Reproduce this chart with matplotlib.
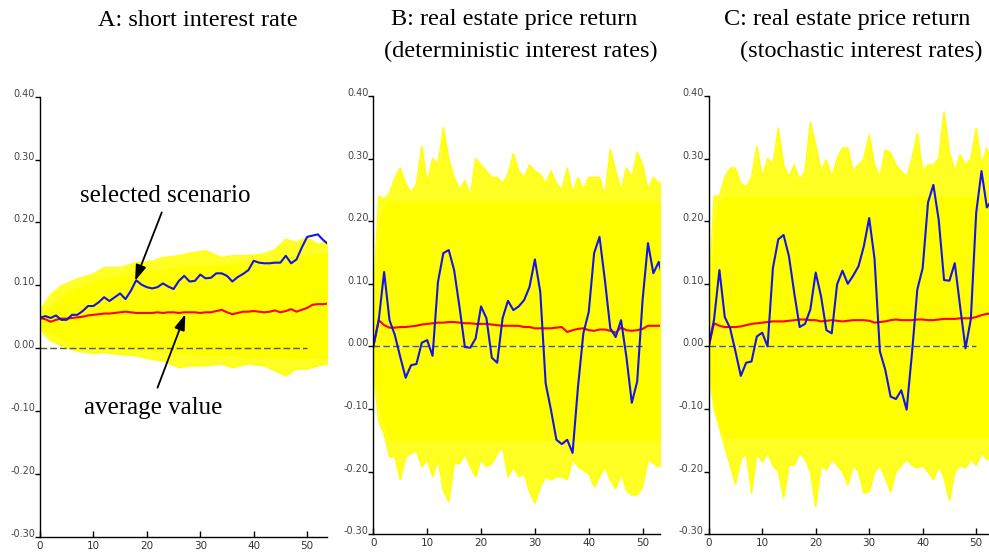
import matplotlib
matplotlib.use('Agg')
import numpy as np
import matplotlib.pyplot as plt

# ---------------- panel A: short interest rate ----------------
a_x = list(range(55))
a_blue = [0.048, 0.051, 0.048, 0.052, 0.045, 0.045, 0.053, 0.053, 0.059, 0.067,
          0.067, 0.073, 0.081, 0.075, 0.081, 0.087, 0.078, 0.091, 0.108, 0.101,
          0.097, 0.095, 0.097, 0.103, 0.098, 0.094, 0.107, 0.115, 0.106, 0.107,
          0.117, 0.111, 0.112, 0.119, 0.119, 0.115, 0.106, 0.113, 0.118, 0.124,
          0.139, 0.136, 0.135, 0.135, 0.136, 0.136, 0.147, 0.135, 0.141, 0.160,
          0.177, 0.179, 0.181, 0.172, 0.165]
a_red = [0.048, 0.046, 0.042, 0.045, 0.047, 0.047, 0.048, 0.049, 0.050, 0.052,
         0.053, 0.054, 0.055, 0.055, 0.056, 0.057, 0.058, 0.057, 0.056, 0.056,
         0.056, 0.056, 0.057, 0.056, 0.057, 0.057, 0.056, 0.057, 0.057, 0.057,
         0.056, 0.057, 0.057, 0.059, 0.061, 0.057, 0.054, 0.056, 0.058, 0.058,
         0.059, 0.058, 0.057, 0.058, 0.060, 0.057, 0.059, 0.062, 0.058, 0.061,
         0.064, 0.069, 0.070, 0.070, 0.071]
a_env_x = [0, 2, 4, 7, 10, 12, 15, 18, 21, 23, 26, 28, 31, 34, 36, 39, 42, 44, 46, 48, 50, 52, 54]
a_out_hi = [0.060, 0.085, 0.099, 0.110, 0.118, 0.128, 0.128, 0.136, 0.138, 0.144, 0.147, 0.151,
            0.155, 0.144, 0.147, 0.147, 0.150, 0.157, 0.173, 0.168, 0.176, 0.165, 0.170]
a_out_lo = [0.030, 0.012, 0.004, -0.005, -0.008, -0.007, -0.010, -0.012, -0.018, -0.020, -0.031,
            -0.028, -0.028, -0.025, -0.031, -0.025, -0.028, -0.036, -0.044, -0.033, -0.033, -0.028, -0.025]
a_core_x = [0, 5, 11, 18, 24, 30, 36, 43, 49, 54]
a_core_hi = [0.052, 0.089, 0.110, 0.120, 0.128, 0.131, 0.134, 0.139, 0.147, 0.152]
a_core_lo = [0.034, 0.009, 0.001, -0.003, -0.007, -0.011, -0.012, -0.015, -0.017, -0.015]

# ---------------- panel B: deterministic interest rates ----------------
b_x = list(range(55))
b_blue = [0.000, 0.042, 0.119, 0.042, 0.018, -0.017, -0.050, -0.030, -0.028, 0.006,
          0.010, -0.015, 0.103, 0.149, 0.154, 0.122, 0.063, -0.001, -0.002, 0.013,
          0.064, 0.045, -0.018, -0.026, 0.045, 0.073, 0.058, 0.064, 0.074, 0.095,
          0.139, 0.087, -0.059, -0.102, -0.149, -0.156, -0.149, -0.170, -0.065, 0.021,
          0.055, 0.149, 0.175, 0.106, 0.029, 0.015, 0.042, -0.017, -0.090, -0.056,
          0.074, 0.165, 0.117, 0.135, 0.100]
b_red = [0.000, 0.042, 0.034, 0.030, 0.030, 0.031, 0.031, 0.032, 0.033, 0.035,
         0.036, 0.037, 0.038, 0.038, 0.039, 0.039, 0.038, 0.037, 0.037, 0.036,
         0.036, 0.036, 0.035, 0.034, 0.033, 0.033, 0.033, 0.033, 0.031, 0.031,
         0.029, 0.029, 0.029, 0.029, 0.030, 0.031, 0.023, 0.026, 0.028, 0.029,
         0.026, 0.025, 0.027, 0.027, 0.025, 0.022, 0.030, 0.026, 0.025, 0.026,
         0.028, 0.033, 0.033, 0.033, 0.033]
b_out_hi = [0.080, 0.240, 0.235, 0.245, 0.270, 0.285, 0.260, 0.245, 0.260, 0.320,
            0.260, 0.300, 0.290, 0.350, 0.300, 0.270, 0.250, 0.265, 0.240, 0.300,
            0.290, 0.280, 0.270, 0.270, 0.260, 0.275, 0.308, 0.280, 0.270, 0.290,
            0.280, 0.275, 0.260, 0.280, 0.260, 0.250, 0.285, 0.245, 0.270, 0.250,
            0.270, 0.270, 0.270, 0.240, 0.315, 0.280, 0.250, 0.285, 0.270, 0.310,
            0.290, 0.250, 0.270, 0.260, 0.270]
b_out_lo = [-0.040, -0.120, -0.140, -0.176, -0.176, -0.213, -0.176, -0.171, -0.166, -0.192,
            -0.180, -0.208, -0.180, -0.230, -0.248, -0.187, -0.187, -0.171, -0.192, -0.208,
            -0.180, -0.192, -0.187, -0.171, -0.160, -0.208, -0.192, -0.208, -0.203, -0.232,
            -0.250, -0.224, -0.208, -0.213, -0.208, -0.208, -0.213, -0.180, -0.192, -0.198,
            -0.203, -0.224, -0.208, -0.192, -0.213, -0.227, -0.203, -0.230, -0.237, -0.237,
            -0.224, -0.180, -0.187, -0.192, -0.190]
b_core_x = [0, 1, 2, 3, 54]
b_core_hi = [0.050, 0.200, 0.225, 0.232, 0.232]
b_core_lo = [-0.030, -0.095, -0.130, -0.150, -0.150]

# ---------------- panel C: stochastic interest rates ----------------
c_x = list(range(54))
c_blue = [0.000, 0.043, 0.122, 0.047, 0.029, -0.008, -0.047, -0.026, -0.024, 0.016,
          0.022, 0.000, 0.125, 0.171, 0.178, 0.144, 0.085, 0.031, 0.036, 0.059,
          0.118, 0.080, 0.026, 0.021, 0.099, 0.121, 0.100, 0.113, 0.128, 0.160,
          0.205, 0.140, -0.008, -0.037, -0.080, -0.084, -0.070, -0.101, -0.011, 0.091,
          0.125, 0.230, 0.258, 0.202, 0.106, 0.105, 0.133, 0.064, -0.003, 0.043,
          0.213, 0.280, 0.222, 0.235]
c_red = [0.000, 0.037, 0.033, 0.031, 0.031, 0.031, 0.032, 0.034, 0.036, 0.037,
         0.038, 0.039, 0.040, 0.040, 0.040, 0.041, 0.042, 0.043, 0.043, 0.042,
         0.042, 0.040, 0.041, 0.042, 0.041, 0.040, 0.041, 0.042, 0.042, 0.042,
         0.041, 0.038, 0.039, 0.040, 0.042, 0.043, 0.042, 0.042, 0.042, 0.043,
         0.043, 0.042, 0.042, 0.043, 0.044, 0.044, 0.044, 0.045, 0.045, 0.045,
         0.047, 0.050, 0.052, 0.053]
c_out_hi = [0.080, 0.240, 0.240, 0.270, 0.285, 0.285, 0.260, 0.255, 0.270, 0.320,
            0.270, 0.300, 0.290, 0.349, 0.290, 0.270, 0.290, 0.265, 0.280, 0.358,
            0.322, 0.280, 0.298, 0.270, 0.300, 0.317, 0.317, 0.280, 0.290, 0.300,
            0.338, 0.290, 0.270, 0.314, 0.309, 0.290, 0.280, 0.270, 0.300, 0.341,
            0.280, 0.290, 0.290, 0.300, 0.375, 0.310, 0.280, 0.306, 0.290, 0.300,
            0.349, 0.290, 0.317, 0.290]
c_out_lo = [-0.040, -0.100, -0.130, -0.160, -0.190, -0.220, -0.180, -0.170, -0.234, -0.170,
            -0.184, -0.170, -0.190, -0.200, -0.242, -0.190, -0.189, -0.170, -0.180, -0.200,
            -0.256, -0.190, -0.197, -0.180, -0.190, -0.200, -0.221, -0.190, -0.200, -0.234,
            -0.232, -0.200, -0.190, -0.210, -0.232, -0.200, -0.190, -0.180, -0.190, -0.194,
            -0.190, -0.200, -0.213, -0.190, -0.210, -0.246, -0.200, -0.190, -0.194, -0.180,
            -0.190, -0.170, -0.181, -0.170]
c_core_x = [0, 1, 2, 3, 53]
c_core_hi = [0.050, 0.200, 0.232, 0.240, 0.240]
c_core_lo = [-0.030, -0.095, -0.128, -0.146, -0.146]

y_ticks = [-0.30, -0.20, -0.10, 0.00, 0.10, 0.20, 0.30, 0.40]
x_ticks = [0, 10, 20, 30, 40, 50]

YEL = '#ffff00'
BLUE = '#1414e6'
RED = '#ff0000'
SERIF = ['Liberation Serif', 'DejaVu Serif']

fig = plt.figure(figsize=(9.89, 5.6), dpi=100)


def panel(rect, xmax, x, blue, red, ex, out_hi, out_lo, cx, core_hi, core_lo, white_gap):
    ax = fig.add_axes(rect)
    ax.set_xlim(0, xmax)
    ax.set_ylim(-0.30, 0.40)
    # fan of scenarios: ragged outer fringe, solid core
    ax.fill_between(ex, out_lo, out_hi, color=YEL, alpha=0.86, lw=0, zorder=1)
    ax.plot(ex, out_hi, color=YEL, lw=1, zorder=1.5)
    ax.plot(ex, out_lo, color=YEL, lw=1, zorder=1.5)
    ax.fill_between(cx, core_lo, core_hi, color=YEL, lw=0, zorder=2)
    if white_gap:
        ax.plot([0, 50], [0, 0], color='white', lw=1, zorder=3)
    ax.plot([0, 50], [0, 0], color='#55553a', lw=1, dashes=(4.8, 2.2), zorder=3.5)
    ax.plot(x, red, color=RED, lw=1.5, zorder=4)
    ax.plot(x, blue, color=BLUE, lw=1.5, zorder=5)

    for s in ['top', 'right']:
        ax.spines[s].set_visible(False)
    for s in ['left', 'bottom']:
        ax.spines[s].set_color('black')
        ax.spines[s].set_linewidth(1)
        ax.spines[s].set_zorder(6)
    ax.set_xticks(x_ticks)
    ax.set_yticks(y_ticks)
    ax.set_yticklabels([f"{v:.2f}" for v in y_ticks])
    ax.tick_params(axis='x', direction='in', length=4, width=1, pad=3,
                   labelsize=7.5, labelcolor='#333333')
    ax.tick_params(axis='y', direction='out', length=3.5, width=1, pad=0,
                   labelsize=7, labelcolor='#444444')
    for lab in ax.get_yticklabels():
        lab.set_va('baseline')
    return ax


axA = panel([0.0404, 0.0416, 0.2907, 0.7857], 53.8, a_x, a_blue, a_red,
            a_env_x, a_out_hi, a_out_lo, a_core_x, a_core_hi, a_core_lo, False)
axB = panel([0.3775, 0.0459, 0.2902, 0.7827], 53.3, b_x, b_blue, b_red,
            b_x, b_out_hi, b_out_lo, b_core_x, b_core_hi, b_core_lo, True)
axC = panel([0.7166, 0.0459, 0.2834, 0.7827], 52.4, c_x, c_blue, c_red,
            c_x, c_out_hi, c_out_lo, c_core_x, c_core_hi, c_core_lo, True)

# annotations in panel A
arrow = dict(arrowstyle='-|>,head_length=0.95,head_width=0.32', color='black',
             lw=1.3, mutation_scale=10, shrinkA=0, shrinkB=0)
axA.annotate('', xy=(17.8, 0.107), xytext=(22.8, 0.216), arrowprops=arrow, zorder=7)
axA.annotate('', xy=(27.2, 0.054), xytext=(22.0, -0.063), arrowprops=arrow, zorder=7)
axA.text(23.5, 0.242, 'selected scenario', family=SERIF, fontsize=18,
         ha='center', va='center', zorder=7)
axA.text(21.2, -0.0945, 'average value', family=SERIF, fontsize=18,
         ha='center', va='center', zorder=7)

# titles
TS = 17.5
fig.text(198 / 989, 1 - 20 / 560, 'A: short interest rate', family=SERIF,
         fontsize=TS, ha='center', va='center')
fig.text(514 / 989, 1 - 20 / 560, 'B: real estate price return', family=SERIF,
         fontsize=TS, ha='center', va='center')
fig.text(521 / 989, 1 - 51 / 560, '(deterministic interest rates)', family=SERIF,
         fontsize=TS, ha='center', va='center')
fig.text(847 / 989, 1 - 20 / 560, 'C: real estate price return', family=SERIF,
         fontsize=TS, ha='center', va='center')
fig.text(861 / 989, 1 - 51 / 560, '(stochastic interest rates)', family=SERIF,
         fontsize=TS, ha='center', va='center')

fig.savefig('out.png', dpi=100, facecolor='white')
